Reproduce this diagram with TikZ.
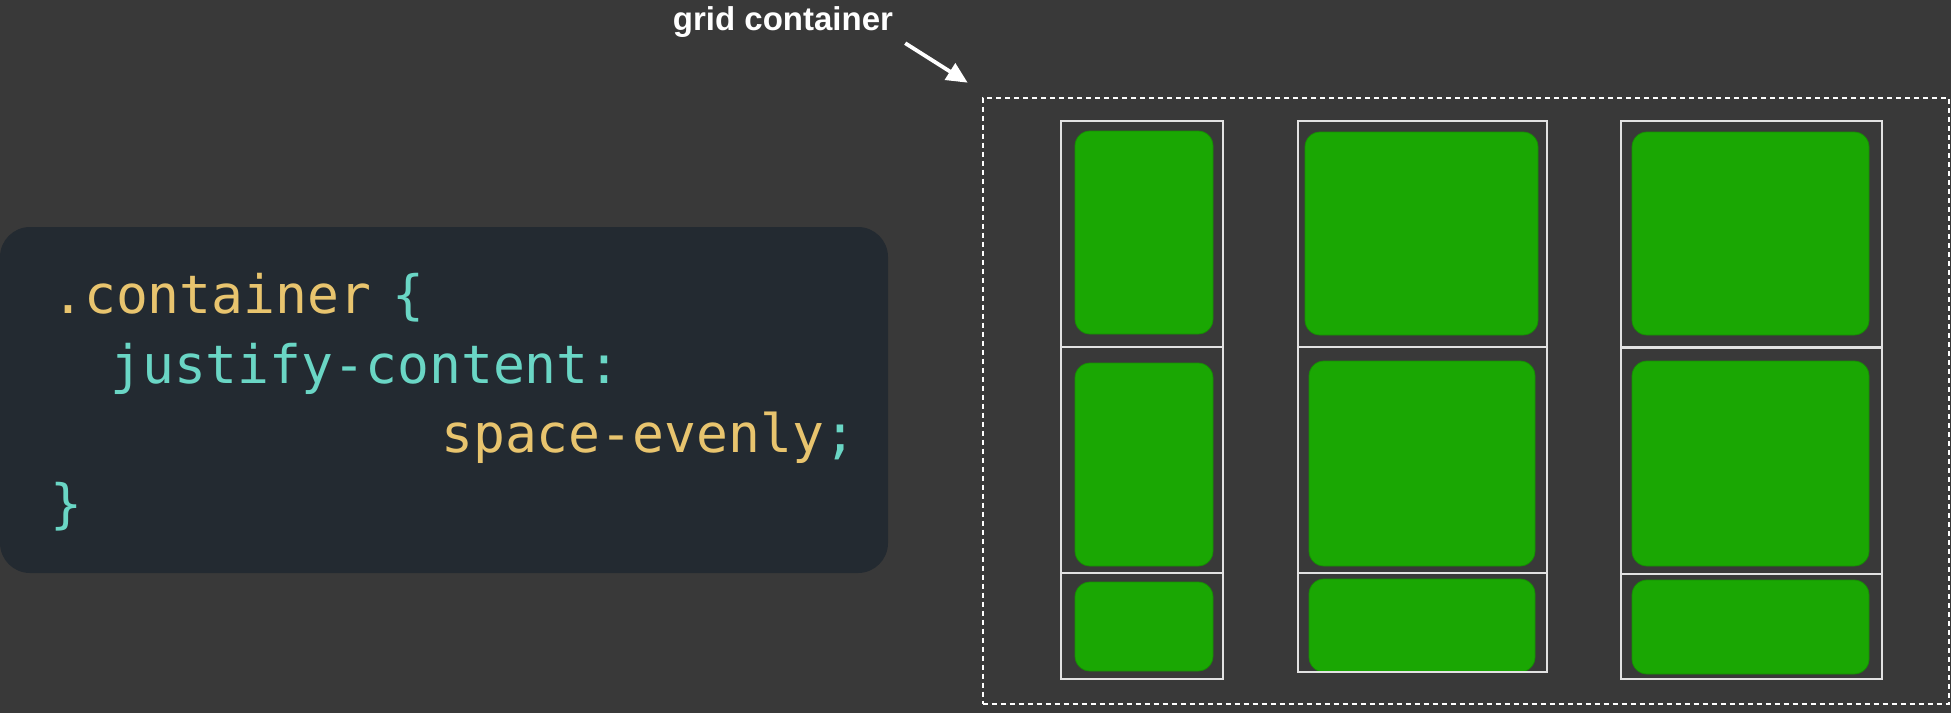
\documentclass[tikz,border=0pt]{standalone}
\usepackage{fontspec}
\setmonofont{DejaVu Sans Mono}
\newfontfamily\labelfont{Liberation Sans}
\usetikzlibrary{arrows.meta,positioning}

\definecolor{slide}{HTML}{393939}
\definecolor{codebg}{HTML}{232A31}
\definecolor{codeyellow}{HTML}{E8C46E}
\definecolor{codeteal}{HTML}{6AD6C5}
\definecolor{itemgreen}{HTML}{1AA703}
\definecolor{framegray}{HTML}{E2E2E2}

\tikzset{
  code/.style={anchor=base west, inner sep=0pt, font=\ttfamily\fontsize{53}{60}\selectfont},
  cell/.style={draw=framegray, line width=2.2pt},
  item/.style={fill=itemgreen, draw=itemgreen!85!black, line width=0.8pt, rounded corners=15pt},
}

\begin{document}
\begin{tikzpicture}[%
    x=1pt, y=-1pt,
    >={Triangle[length=21pt,width=19pt]},
  ]
    \fill[slide] (0,0) rectangle (1951,713);
    \useasboundingbox (0,0) rectangle (1951,713);

    % code panel
    \fill[codebg, rounded corners=30pt] (0,227) rectangle (888,573);
    \node[code] (sel)   at (52,313)  {\textcolor{codeyellow}{.container}};
    \node[code] (open)  at (392,313) {\textcolor{codeteal}{\{}};
    \node[code] (prop)  at (110,383) {\textcolor{codeteal}{justify-content:}};
    \node[code] (val)   at (441,452) {\textcolor{codeyellow}{space-evenly}\textcolor{codeteal}{;}};
    \node[code] (close) at (50,522)  {\textcolor{codeteal}{\}}};

    % grid container
    \node[draw=white, line width=2pt, dash pattern=on 5pt off 4pt,
          minimum width=966pt, minimum height=606pt, inner sep=0pt,
          anchor=north west] (grid) at (981.7,96.7) {};
    \node[anchor=base, inner sep=0pt, text=white,
          font=\labelfont\bfseries\fontsize{33}{36}\selectfont] (label) at (783,30) {grid container};
    \draw[->, white, line width=3.8pt]
      ([shift={(12,6)}]label.south east) -- ([shift={(-14,-14)}]grid.north west);

    % items, column 1
    \draw[item] (1075,131) rectangle (1213,334);
    \draw[item] (1075,363) rectangle (1213,566);
    \draw[item] (1075,582) rectangle (1213,671);
    % items, column 2
    \draw[item] (1305,132) rectangle (1538,335);
    \draw[item] (1309,361) rectangle (1535,566);
    \draw[item] (1309,579) rectangle (1535,672);
    % items, column 3
    \draw[item] (1632,132) rectangle (1869,335);
    \draw[item] (1632,361) rectangle (1869,566);
    \draw[item] (1632,580) rectangle (1869,674);

    % grid cells
    \draw[cell] (1061,120.7) rectangle (1223,679);
    \draw[cell] (1061,347.3) -- (1223,347.3) (1061,573.3) -- (1223,573.3);
    \draw[cell] (1297.7,120.7) rectangle (1546.7,672.3);
    \draw[cell] (1297.7,347.3) -- (1546.7,347.3) (1297.7,573) -- (1546.7,573);
    \draw[cell] (1620.7,120.7) rectangle (1881.7,679.3);
    \draw[cell] (1620.7,347.4) -- (1881.7,347.4) (1620.7,573.6) -- (1881.7,573.6);
  \end{tikzpicture}
\end{document}
